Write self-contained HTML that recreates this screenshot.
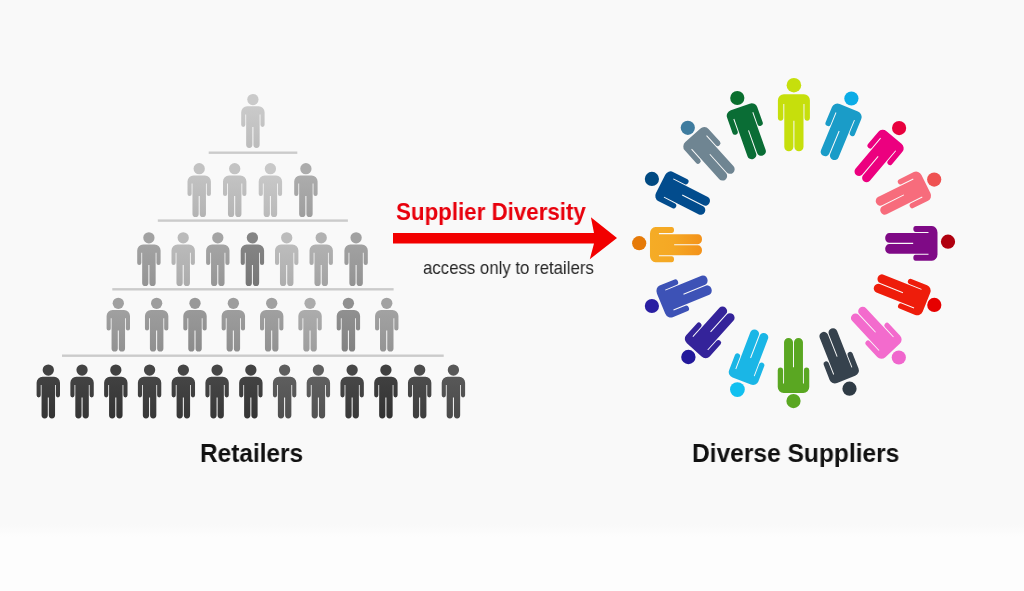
<!DOCTYPE html>
<html><head><meta charset="utf-8"><style>
html,body{margin:0;padding:0;}
body{width:1024px;height:591px;overflow:hidden;position:relative;background:#fdfdfd;font-family:"Liberation Sans",sans-serif;}
#bg{position:absolute;left:0;top:0;width:1024px;height:537px;background:linear-gradient(to bottom,#f9f9f9 0,#f9f9f9 524px,#fdfdfd 537px);}
svg{position:absolute;left:0;top:0;}
.t{position:absolute;white-space:nowrap;line-height:1;will-change:transform;}
</style></head><body>
<div id="bg"></div>
<svg width="1024" height="591" viewBox="0 0 1024 591">
<defs><linearGradient id="g0" x1="0" y1="0" x2="0" y2="1"><stop offset="0" stop-color="#cacaca"/><stop offset="1" stop-color="#bcbcbc"/></linearGradient><linearGradient id="g1" x1="0" y1="0" x2="0" y2="1"><stop offset="0" stop-color="#c2c2c2"/><stop offset="1" stop-color="#b4b4b4"/></linearGradient><linearGradient id="g2" x1="0" y1="0" x2="0" y2="1"><stop offset="0" stop-color="#c3c3c3"/><stop offset="1" stop-color="#b5b5b5"/></linearGradient><linearGradient id="g3" x1="0" y1="0" x2="0" y2="1"><stop offset="0" stop-color="#c8c8c8"/><stop offset="1" stop-color="#bababa"/></linearGradient><linearGradient id="g4" x1="0" y1="0" x2="0" y2="1"><stop offset="0" stop-color="#acacac"/><stop offset="1" stop-color="#9e9e9e"/></linearGradient><linearGradient id="g5" x1="0" y1="0" x2="0" y2="1"><stop offset="0" stop-color="#a2a2a2"/><stop offset="1" stop-color="#949494"/></linearGradient><linearGradient id="g6" x1="0" y1="0" x2="0" y2="1"><stop offset="0" stop-color="#bababa"/><stop offset="1" stop-color="#acacac"/></linearGradient><linearGradient id="g7" x1="0" y1="0" x2="0" y2="1"><stop offset="0" stop-color="#a4a4a4"/><stop offset="1" stop-color="#969696"/></linearGradient><linearGradient id="g8" x1="0" y1="0" x2="0" y2="1"><stop offset="0" stop-color="#848484"/><stop offset="1" stop-color="#767676"/></linearGradient><linearGradient id="g9" x1="0" y1="0" x2="0" y2="1"><stop offset="0" stop-color="#bcbcbc"/><stop offset="1" stop-color="#aeaeae"/></linearGradient><linearGradient id="g10" x1="0" y1="0" x2="0" y2="1"><stop offset="0" stop-color="#b1b1b1"/><stop offset="1" stop-color="#a3a3a3"/></linearGradient><linearGradient id="g11" x1="0" y1="0" x2="0" y2="1"><stop offset="0" stop-color="#a1a1a1"/><stop offset="1" stop-color="#939393"/></linearGradient><linearGradient id="g12" x1="0" y1="0" x2="0" y2="1"><stop offset="0" stop-color="#a0a0a0"/><stop offset="1" stop-color="#929292"/></linearGradient><linearGradient id="g13" x1="0" y1="0" x2="0" y2="1"><stop offset="0" stop-color="#9d9d9d"/><stop offset="1" stop-color="#8f8f8f"/></linearGradient><linearGradient id="g14" x1="0" y1="0" x2="0" y2="1"><stop offset="0" stop-color="#999999"/><stop offset="1" stop-color="#8b8b8b"/></linearGradient><linearGradient id="g15" x1="0" y1="0" x2="0" y2="1"><stop offset="0" stop-color="#9d9d9d"/><stop offset="1" stop-color="#8f8f8f"/></linearGradient><linearGradient id="g16" x1="0" y1="0" x2="0" y2="1"><stop offset="0" stop-color="#a0a0a0"/><stop offset="1" stop-color="#929292"/></linearGradient><linearGradient id="g17" x1="0" y1="0" x2="0" y2="1"><stop offset="0" stop-color="#acacac"/><stop offset="1" stop-color="#9e9e9e"/></linearGradient><linearGradient id="g18" x1="0" y1="0" x2="0" y2="1"><stop offset="0" stop-color="#909090"/><stop offset="1" stop-color="#828282"/></linearGradient><linearGradient id="g19" x1="0" y1="0" x2="0" y2="1"><stop offset="0" stop-color="#a2a2a2"/><stop offset="1" stop-color="#949494"/></linearGradient><linearGradient id="g20" x1="0" y1="0" x2="0" y2="1"><stop offset="0" stop-color="#424242"/><stop offset="1" stop-color="#343434"/></linearGradient><linearGradient id="g21" x1="0" y1="0" x2="0" y2="1"><stop offset="0" stop-color="#434343"/><stop offset="1" stop-color="#353535"/></linearGradient><linearGradient id="g22" x1="0" y1="0" x2="0" y2="1"><stop offset="0" stop-color="#414141"/><stop offset="1" stop-color="#333333"/></linearGradient><linearGradient id="g23" x1="0" y1="0" x2="0" y2="1"><stop offset="0" stop-color="#464646"/><stop offset="1" stop-color="#383838"/></linearGradient><linearGradient id="g24" x1="0" y1="0" x2="0" y2="1"><stop offset="0" stop-color="#454545"/><stop offset="1" stop-color="#373737"/></linearGradient><linearGradient id="g25" x1="0" y1="0" x2="0" y2="1"><stop offset="0" stop-color="#464646"/><stop offset="1" stop-color="#383838"/></linearGradient><linearGradient id="g26" x1="0" y1="0" x2="0" y2="1"><stop offset="0" stop-color="#434343"/><stop offset="1" stop-color="#353535"/></linearGradient><linearGradient id="g27" x1="0" y1="0" x2="0" y2="1"><stop offset="0" stop-color="#5e5e5e"/><stop offset="1" stop-color="#505050"/></linearGradient><linearGradient id="g28" x1="0" y1="0" x2="0" y2="1"><stop offset="0" stop-color="#606060"/><stop offset="1" stop-color="#525252"/></linearGradient><linearGradient id="g29" x1="0" y1="0" x2="0" y2="1"><stop offset="0" stop-color="#474747"/><stop offset="1" stop-color="#393939"/></linearGradient><linearGradient id="g30" x1="0" y1="0" x2="0" y2="1"><stop offset="0" stop-color="#404040"/><stop offset="1" stop-color="#323232"/></linearGradient><linearGradient id="g31" x1="0" y1="0" x2="0" y2="1"><stop offset="0" stop-color="#4c4c4c"/><stop offset="1" stop-color="#3e3e3e"/></linearGradient><linearGradient id="g32" x1="0" y1="0" x2="0" y2="1"><stop offset="0" stop-color="#585858"/><stop offset="1" stop-color="#4a4a4a"/></linearGradient><linearGradient id="cg12" x1="0" y1="0" x2="0" y2="1"><stop offset="0" stop-color="#f5ac26"/><stop offset="0.45" stop-color="#f5a824"/><stop offset="1" stop-color="#f3921a"/></linearGradient></defs>
<g transform="translate(793.90,85.80) rotate(0) scale(1.0,1.0)"><path d="M-16.00,14.50 A6,6 0 0 1 -10.00,8.50 L10.00,8.50 A6,6 0 0 1 16.00,14.50 L16.00,32.27 A2.73,2.73 0 0 1 10.55,32.27 L10.55,18.30 L9.60,18.30 L9.60,60.95 A4.55,4.55 0 0 1 0.50,60.95 L0.50,35.00 L-0.50,35.00 L-0.50,60.95 A4.55,4.55 0 0 1 -9.60,60.95 L-9.60,18.30 L-10.55,18.30 L-10.55,32.27 A2.73,2.73 0 0 1 -16.00,32.27 Z" fill="#c6df0c"/></g><circle cx="793.90" cy="85.20" r="7.30" fill="#c6df0c"/>
<g transform="translate(851.90,100.30) rotate(22.5) scale(0.99,0.95)"><path d="M-16.00,14.50 A6,6 0 0 1 -10.00,8.50 L10.00,8.50 A6,6 0 0 1 16.00,14.50 L16.00,32.27 A2.73,2.73 0 0 1 10.55,32.27 L10.55,18.30 L9.60,18.30 L9.60,60.95 A4.55,4.55 0 0 1 0.50,60.95 L0.50,35.00 L-0.50,35.00 L-0.50,60.95 A4.55,4.55 0 0 1 -9.60,60.95 L-9.60,18.30 L-10.55,18.30 L-10.55,32.27 A2.73,2.73 0 0 1 -16.00,32.27 Z" fill="#1a9cc8"/></g><circle cx="851.40" cy="98.50" r="7.10" fill="#0cace6"/>
<g transform="translate(899.10,131.40) rotate(40) scale(0.98,0.93)"><path d="M-16.00,14.50 A6,6 0 0 1 -10.00,8.50 L10.00,8.50 A6,6 0 0 1 16.00,14.50 L16.00,32.27 A2.73,2.73 0 0 1 10.55,32.27 L10.55,18.30 L9.60,18.30 L9.60,60.95 A4.55,4.55 0 0 1 0.50,60.95 L0.50,35.00 L-0.50,35.00 L-0.50,60.95 A4.55,4.55 0 0 1 -9.60,60.95 L-9.60,18.30 L-10.55,18.30 L-10.55,32.27 A2.73,2.73 0 0 1 -16.00,32.27 Z" fill="#ec007f"/></g><circle cx="899.10" cy="128.10" r="7.10" fill="#e8003e"/>
<g transform="translate(933.00,180.40) rotate(63.5) scale(1.0,0.93)"><path d="M-16.00,14.50 A6,6 0 0 1 -10.00,8.50 L10.00,8.50 A6,6 0 0 1 16.00,14.50 L16.00,32.27 A2.73,2.73 0 0 1 10.55,32.27 L10.55,18.30 L9.60,18.30 L9.60,60.95 A4.55,4.55 0 0 1 0.50,60.95 L0.50,35.00 L-0.50,35.00 L-0.50,60.95 A4.55,4.55 0 0 1 -9.60,60.95 L-9.60,18.30 L-10.55,18.30 L-10.55,32.27 A2.73,2.73 0 0 1 -16.00,32.27 Z" fill="#f76c7c"/></g><circle cx="934.20" cy="179.60" r="7.10" fill="#ef5252"/>
<g transform="translate(945.30,243.40) rotate(90) scale(1.08,0.918)"><path d="M-16.00,14.50 A6,6 0 0 1 -10.00,8.50 L10.00,8.50 A6,6 0 0 1 16.00,14.50 L16.00,32.27 A2.73,2.73 0 0 1 10.55,32.27 L10.55,18.30 L9.60,18.30 L9.60,60.95 A4.55,4.55 0 0 1 0.50,60.95 L0.50,35.00 L-0.50,35.00 L-0.50,60.95 A4.55,4.55 0 0 1 -9.60,60.95 L-9.60,18.30 L-10.55,18.30 L-10.55,32.27 A2.73,2.73 0 0 1 -16.00,32.27 Z" fill="#7f0a86"/></g><circle cx="948.00" cy="241.70" r="7.10" fill="#b0000f"/>
<g transform="translate(934.00,305.20) rotate(111.8) scale(1.0,0.955)"><path d="M-16.00,14.50 A6,6 0 0 1 -10.00,8.50 L10.00,8.50 A6,6 0 0 1 16.00,14.50 L16.00,32.27 A2.73,2.73 0 0 1 10.55,32.27 L10.55,18.30 L9.60,18.30 L9.60,60.95 A4.55,4.55 0 0 1 0.50,60.95 L0.50,35.00 L-0.50,35.00 L-0.50,60.95 A4.55,4.55 0 0 1 -9.60,60.95 L-9.60,18.30 L-10.55,18.30 L-10.55,32.27 A2.73,2.73 0 0 1 -16.00,32.27 Z" fill="#ee1d0b"/></g><circle cx="934.30" cy="304.90" r="7.10" fill="#e60000"/>
<g transform="translate(898.00,356.30) rotate(137) scale(0.98,0.94)"><path d="M-16.00,14.50 A6,6 0 0 1 -10.00,8.50 L10.00,8.50 A6,6 0 0 1 16.00,14.50 L16.00,32.27 A2.73,2.73 0 0 1 10.55,32.27 L10.55,18.30 L9.60,18.30 L9.60,60.95 A4.55,4.55 0 0 1 0.50,60.95 L0.50,35.00 L-0.50,35.00 L-0.50,60.95 A4.55,4.55 0 0 1 -9.60,60.95 L-9.60,18.30 L-10.55,18.30 L-10.55,32.27 A2.73,2.73 0 0 1 -16.00,32.27 Z" fill="#f36bcd"/></g><circle cx="898.80" cy="357.50" r="7.10" fill="#f066cd"/>
<g transform="translate(849.00,386.70) rotate(158.5) scale(0.97,0.925)"><path d="M-16.00,14.50 A6,6 0 0 1 -10.00,8.50 L10.00,8.50 A6,6 0 0 1 16.00,14.50 L16.00,32.27 A2.73,2.73 0 0 1 10.55,32.27 L10.55,18.30 L9.60,18.30 L9.60,60.95 A4.55,4.55 0 0 1 0.50,60.95 L0.50,35.00 L-0.50,35.00 L-0.50,60.95 A4.55,4.55 0 0 1 -9.60,60.95 L-9.60,18.30 L-10.55,18.30 L-10.55,32.27 A2.73,2.73 0 0 1 -16.00,32.27 Z" fill="#36424d"/></g><circle cx="849.50" cy="388.70" r="7.10" fill="#2f3b45"/>
<g transform="translate(793.50,401.10) rotate(180) scale(0.985,0.965)"><path d="M-16.00,14.50 A6,6 0 0 1 -10.00,8.50 L10.00,8.50 A6,6 0 0 1 16.00,14.50 L16.00,32.27 A2.73,2.73 0 0 1 10.55,32.27 L10.55,18.30 L9.60,18.30 L9.60,60.95 A4.55,4.55 0 0 1 0.50,60.95 L0.50,35.00 L-0.50,35.00 L-0.50,60.95 A4.55,4.55 0 0 1 -9.60,60.95 L-9.60,18.30 L-10.55,18.30 L-10.55,32.27 A2.73,2.73 0 0 1 -16.00,32.27 Z" fill="#5aa722"/></g><circle cx="793.50" cy="401.10" r="7.10" fill="#5aa722"/>
<g transform="translate(738.90,388.40) rotate(201) scale(0.98,0.93)"><path d="M-16.00,14.50 A6,6 0 0 1 -10.00,8.50 L10.00,8.50 A6,6 0 0 1 16.00,14.50 L16.00,32.27 A2.73,2.73 0 0 1 10.55,32.27 L10.55,18.30 L9.60,18.30 L9.60,60.95 A4.55,4.55 0 0 1 0.50,60.95 L0.50,35.00 L-0.50,35.00 L-0.50,60.95 A4.55,4.55 0 0 1 -9.60,60.95 L-9.60,18.30 L-10.55,18.30 L-10.55,32.27 A2.73,2.73 0 0 1 -16.00,32.27 Z" fill="#1ab6e6"/></g><circle cx="737.40" cy="389.60" r="7.40" fill="#12c0f0"/>
<g transform="translate(689.00,355.80) rotate(222) scale(0.99,0.92)"><path d="M-16.00,14.50 A6,6 0 0 1 -10.00,8.50 L10.00,8.50 A6,6 0 0 1 16.00,14.50 L16.00,32.27 A2.73,2.73 0 0 1 10.55,32.27 L10.55,18.30 L9.60,18.30 L9.60,60.95 A4.55,4.55 0 0 1 0.50,60.95 L0.50,35.00 L-0.50,35.00 L-0.50,60.95 A4.55,4.55 0 0 1 -9.60,60.95 L-9.60,18.30 L-10.55,18.30 L-10.55,32.27 A2.73,2.73 0 0 1 -16.00,32.27 Z" fill="#34239a"/></g><circle cx="688.40" cy="357.00" r="7.20" fill="#23199b"/>
<g transform="translate(653.90,306.50) rotate(247.5) scale(1.07,0.915)"><path d="M-16.00,14.50 A6,6 0 0 1 -10.00,8.50 L10.00,8.50 A6,6 0 0 1 16.00,14.50 L16.00,32.27 A2.73,2.73 0 0 1 10.55,32.27 L10.55,18.30 L9.60,18.30 L9.60,60.95 A4.55,4.55 0 0 1 0.50,60.95 L0.50,35.00 L-0.50,35.00 L-0.50,60.95 A4.55,4.55 0 0 1 -9.60,60.95 L-9.60,18.30 L-10.55,18.30 L-10.55,32.27 A2.73,2.73 0 0 1 -16.00,32.27 Z" fill="#3d52b6"/></g><circle cx="651.90" cy="306.00" r="7.10" fill="#2a1fa2"/>
<g transform="translate(642.20,244.70) rotate(270) scale(1.1,0.913)"><path d="M-16.00,14.50 A6,6 0 0 1 -10.00,8.50 L10.00,8.50 A6,6 0 0 1 16.00,14.50 L16.00,32.27 A2.73,2.73 0 0 1 10.55,32.27 L10.55,18.30 L9.60,18.30 L9.60,60.95 A4.55,4.55 0 0 1 0.50,60.95 L0.50,35.00 L-0.50,35.00 L-0.50,60.95 A4.55,4.55 0 0 1 -9.60,60.95 L-9.60,18.30 L-10.55,18.30 L-10.55,32.27 A2.73,2.73 0 0 1 -16.00,32.27 Z" fill="url(#cg12)"/></g><circle cx="639.20" cy="243.20" r="7.10" fill="#e67a08"/>
<g transform="translate(653.70,180.40) rotate(297) scale(1.02,0.915)"><path d="M-16.00,14.50 A6,6 0 0 1 -10.00,8.50 L10.00,8.50 A6,6 0 0 1 16.00,14.50 L16.00,32.27 A2.73,2.73 0 0 1 10.55,32.27 L10.55,18.30 L9.60,18.30 L9.60,60.95 A4.55,4.55 0 0 1 0.50,60.95 L0.50,35.00 L-0.50,35.00 L-0.50,60.95 A4.55,4.55 0 0 1 -9.60,60.95 L-9.60,18.30 L-10.55,18.30 L-10.55,32.27 A2.73,2.73 0 0 1 -16.00,32.27 Z" fill="#024c8d"/></g><circle cx="651.90" cy="178.90" r="7.10" fill="#014a82"/>
<g transform="translate(687.30,129.30) rotate(318) scale(1.0,0.96)"><path d="M-16.00,14.50 A6,6 0 0 1 -10.00,8.50 L10.00,8.50 A6,6 0 0 1 16.00,14.50 L16.00,32.27 A2.73,2.73 0 0 1 10.55,32.27 L10.55,18.30 L9.60,18.30 L9.60,60.95 A4.55,4.55 0 0 1 0.50,60.95 L0.50,35.00 L-0.50,35.00 L-0.50,60.95 A4.55,4.55 0 0 1 -9.60,60.95 L-9.60,18.30 L-10.55,18.30 L-10.55,32.27 A2.73,2.73 0 0 1 -16.00,32.27 Z" fill="#6f8592"/></g><circle cx="687.80" cy="127.80" r="7.10" fill="#3f7c9f"/>
<g transform="translate(737.60,99.50) rotate(340.5) scale(1.0,0.935)"><path d="M-16.00,14.50 A6,6 0 0 1 -10.00,8.50 L10.00,8.50 A6,6 0 0 1 16.00,14.50 L16.00,32.27 A2.73,2.73 0 0 1 10.55,32.27 L10.55,18.30 L9.60,18.30 L9.60,60.95 A4.55,4.55 0 0 1 0.50,60.95 L0.50,35.00 L-0.50,35.00 L-0.50,60.95 A4.55,4.55 0 0 1 -9.60,60.95 L-9.60,18.30 L-10.55,18.30 L-10.55,32.27 A2.73,2.73 0 0 1 -16.00,32.27 Z" fill="#0a6d35"/></g><circle cx="737.30" cy="98.00" r="7.10" fill="#0a6f2e"/>
<g transform="translate(252.90,99.30)"><path d="M-11.70,13.00 A6.0,6.0 0 0 1 -5.70,7.00 L5.70,7.00 A6.0,6.0 0 0 1 11.70,13.00 L11.70,25.53 A2.07,2.07 0 0 1 7.55,25.53 L7.55,15.20 L6.75,15.20 L6.75,45.48 A3.12,3.12 0 0 1 0.50,45.48 L0.50,27.60 L-0.50,27.60 L-0.50,45.48 A3.12,3.12 0 0 1 -6.75,45.48 L-6.75,15.20 L-7.55,15.20 L-7.55,25.53 A2.07,2.07 0 0 1 -11.70,25.53 Z" fill="url(#g0)"/></g><circle cx="252.90" cy="99.60" r="5.65" fill="#cacaca"/>
<g transform="translate(199.20,168.40)"><path d="M-11.70,13.00 A6.0,6.0 0 0 1 -5.70,7.00 L5.70,7.00 A6.0,6.0 0 0 1 11.70,13.00 L11.70,25.53 A2.07,2.07 0 0 1 7.55,25.53 L7.55,15.20 L6.75,15.20 L6.75,45.48 A3.12,3.12 0 0 1 0.50,45.48 L0.50,27.60 L-0.50,27.60 L-0.50,45.48 A3.12,3.12 0 0 1 -6.75,45.48 L-6.75,15.20 L-7.55,15.20 L-7.55,25.53 A2.07,2.07 0 0 1 -11.70,25.53 Z" fill="url(#g1)"/></g><circle cx="199.20" cy="168.70" r="5.65" fill="#c2c2c2"/>
<g transform="translate(234.70,168.40)"><path d="M-11.70,13.00 A6.0,6.0 0 0 1 -5.70,7.00 L5.70,7.00 A6.0,6.0 0 0 1 11.70,13.00 L11.70,25.53 A2.07,2.07 0 0 1 7.55,25.53 L7.55,15.20 L6.75,15.20 L6.75,45.48 A3.12,3.12 0 0 1 0.50,45.48 L0.50,27.60 L-0.50,27.60 L-0.50,45.48 A3.12,3.12 0 0 1 -6.75,45.48 L-6.75,15.20 L-7.55,15.20 L-7.55,25.53 A2.07,2.07 0 0 1 -11.70,25.53 Z" fill="url(#g2)"/></g><circle cx="234.70" cy="168.70" r="5.65" fill="#c3c3c3"/>
<g transform="translate(270.40,168.40)"><path d="M-11.70,13.00 A6.0,6.0 0 0 1 -5.70,7.00 L5.70,7.00 A6.0,6.0 0 0 1 11.70,13.00 L11.70,25.53 A2.07,2.07 0 0 1 7.55,25.53 L7.55,15.20 L6.75,15.20 L6.75,45.48 A3.12,3.12 0 0 1 0.50,45.48 L0.50,27.60 L-0.50,27.60 L-0.50,45.48 A3.12,3.12 0 0 1 -6.75,45.48 L-6.75,15.20 L-7.55,15.20 L-7.55,25.53 A2.07,2.07 0 0 1 -11.70,25.53 Z" fill="url(#g3)"/></g><circle cx="270.40" cy="168.70" r="5.65" fill="#c8c8c8"/>
<g transform="translate(305.90,168.40)"><path d="M-11.70,13.00 A6.0,6.0 0 0 1 -5.70,7.00 L5.70,7.00 A6.0,6.0 0 0 1 11.70,13.00 L11.70,25.53 A2.07,2.07 0 0 1 7.55,25.53 L7.55,15.20 L6.75,15.20 L6.75,45.48 A3.12,3.12 0 0 1 0.50,45.48 L0.50,27.60 L-0.50,27.60 L-0.50,45.48 A3.12,3.12 0 0 1 -6.75,45.48 L-6.75,15.20 L-7.55,15.20 L-7.55,25.53 A2.07,2.07 0 0 1 -11.70,25.53 Z" fill="url(#g4)"/></g><circle cx="305.90" cy="168.70" r="5.65" fill="#acacac"/>
<g transform="translate(148.90,237.50)"><path d="M-11.70,13.00 A6.0,6.0 0 0 1 -5.70,7.00 L5.70,7.00 A6.0,6.0 0 0 1 11.70,13.00 L11.70,25.53 A2.07,2.07 0 0 1 7.55,25.53 L7.55,15.20 L6.75,15.20 L6.75,45.48 A3.12,3.12 0 0 1 0.50,45.48 L0.50,27.60 L-0.50,27.60 L-0.50,45.48 A3.12,3.12 0 0 1 -6.75,45.48 L-6.75,15.20 L-7.55,15.20 L-7.55,25.53 A2.07,2.07 0 0 1 -11.70,25.53 Z" fill="url(#g5)"/></g><circle cx="148.90" cy="237.80" r="5.65" fill="#a2a2a2"/>
<g transform="translate(183.20,237.50)"><path d="M-11.70,13.00 A6.0,6.0 0 0 1 -5.70,7.00 L5.70,7.00 A6.0,6.0 0 0 1 11.70,13.00 L11.70,25.53 A2.07,2.07 0 0 1 7.55,25.53 L7.55,15.20 L6.75,15.20 L6.75,45.48 A3.12,3.12 0 0 1 0.50,45.48 L0.50,27.60 L-0.50,27.60 L-0.50,45.48 A3.12,3.12 0 0 1 -6.75,45.48 L-6.75,15.20 L-7.55,15.20 L-7.55,25.53 A2.07,2.07 0 0 1 -11.70,25.53 Z" fill="url(#g6)"/></g><circle cx="183.20" cy="237.80" r="5.65" fill="#bababa"/>
<g transform="translate(217.80,237.50)"><path d="M-11.70,13.00 A6.0,6.0 0 0 1 -5.70,7.00 L5.70,7.00 A6.0,6.0 0 0 1 11.70,13.00 L11.70,25.53 A2.07,2.07 0 0 1 7.55,25.53 L7.55,15.20 L6.75,15.20 L6.75,45.48 A3.12,3.12 0 0 1 0.50,45.48 L0.50,27.60 L-0.50,27.60 L-0.50,45.48 A3.12,3.12 0 0 1 -6.75,45.48 L-6.75,15.20 L-7.55,15.20 L-7.55,25.53 A2.07,2.07 0 0 1 -11.70,25.53 Z" fill="url(#g7)"/></g><circle cx="217.80" cy="237.80" r="5.65" fill="#a4a4a4"/>
<g transform="translate(252.40,237.50)"><path d="M-11.70,13.00 A6.0,6.0 0 0 1 -5.70,7.00 L5.70,7.00 A6.0,6.0 0 0 1 11.70,13.00 L11.70,25.53 A2.07,2.07 0 0 1 7.55,25.53 L7.55,15.20 L6.75,15.20 L6.75,45.48 A3.12,3.12 0 0 1 0.50,45.48 L0.50,27.60 L-0.50,27.60 L-0.50,45.48 A3.12,3.12 0 0 1 -6.75,45.48 L-6.75,15.20 L-7.55,15.20 L-7.55,25.53 A2.07,2.07 0 0 1 -11.70,25.53 Z" fill="url(#g8)"/></g><circle cx="252.40" cy="237.80" r="5.65" fill="#848484"/>
<g transform="translate(286.70,237.50)"><path d="M-11.70,13.00 A6.0,6.0 0 0 1 -5.70,7.00 L5.70,7.00 A6.0,6.0 0 0 1 11.70,13.00 L11.70,25.53 A2.07,2.07 0 0 1 7.55,25.53 L7.55,15.20 L6.75,15.20 L6.75,45.48 A3.12,3.12 0 0 1 0.50,45.48 L0.50,27.60 L-0.50,27.60 L-0.50,45.48 A3.12,3.12 0 0 1 -6.75,45.48 L-6.75,15.20 L-7.55,15.20 L-7.55,25.53 A2.07,2.07 0 0 1 -11.70,25.53 Z" fill="url(#g9)"/></g><circle cx="286.70" cy="237.80" r="5.65" fill="#bcbcbc"/>
<g transform="translate(321.20,237.50)"><path d="M-11.70,13.00 A6.0,6.0 0 0 1 -5.70,7.00 L5.70,7.00 A6.0,6.0 0 0 1 11.70,13.00 L11.70,25.53 A2.07,2.07 0 0 1 7.55,25.53 L7.55,15.20 L6.75,15.20 L6.75,45.48 A3.12,3.12 0 0 1 0.50,45.48 L0.50,27.60 L-0.50,27.60 L-0.50,45.48 A3.12,3.12 0 0 1 -6.75,45.48 L-6.75,15.20 L-7.55,15.20 L-7.55,25.53 A2.07,2.07 0 0 1 -11.70,25.53 Z" fill="url(#g10)"/></g><circle cx="321.20" cy="237.80" r="5.65" fill="#b1b1b1"/>
<g transform="translate(356.10,237.50)"><path d="M-11.70,13.00 A6.0,6.0 0 0 1 -5.70,7.00 L5.70,7.00 A6.0,6.0 0 0 1 11.70,13.00 L11.70,25.53 A2.07,2.07 0 0 1 7.55,25.53 L7.55,15.20 L6.75,15.20 L6.75,45.48 A3.12,3.12 0 0 1 0.50,45.48 L0.50,27.60 L-0.50,27.60 L-0.50,45.48 A3.12,3.12 0 0 1 -6.75,45.48 L-6.75,15.20 L-7.55,15.20 L-7.55,25.53 A2.07,2.07 0 0 1 -11.70,25.53 Z" fill="url(#g11)"/></g><circle cx="356.10" cy="237.80" r="5.65" fill="#a1a1a1"/>
<g transform="translate(118.30,303.00)"><path d="M-11.70,13.00 A6.0,6.0 0 0 1 -5.70,7.00 L5.70,7.00 A6.0,6.0 0 0 1 11.70,13.00 L11.70,25.53 A2.07,2.07 0 0 1 7.55,25.53 L7.55,15.20 L6.75,15.20 L6.75,45.48 A3.12,3.12 0 0 1 0.50,45.48 L0.50,27.60 L-0.50,27.60 L-0.50,45.48 A3.12,3.12 0 0 1 -6.75,45.48 L-6.75,15.20 L-7.55,15.20 L-7.55,25.53 A2.07,2.07 0 0 1 -11.70,25.53 Z" fill="url(#g12)"/></g><circle cx="118.30" cy="303.30" r="5.65" fill="#a0a0a0"/>
<g transform="translate(156.65,303.00)"><path d="M-11.70,13.00 A6.0,6.0 0 0 1 -5.70,7.00 L5.70,7.00 A6.0,6.0 0 0 1 11.70,13.00 L11.70,25.53 A2.07,2.07 0 0 1 7.55,25.53 L7.55,15.20 L6.75,15.20 L6.75,45.48 A3.12,3.12 0 0 1 0.50,45.48 L0.50,27.60 L-0.50,27.60 L-0.50,45.48 A3.12,3.12 0 0 1 -6.75,45.48 L-6.75,15.20 L-7.55,15.20 L-7.55,25.53 A2.07,2.07 0 0 1 -11.70,25.53 Z" fill="url(#g13)"/></g><circle cx="156.65" cy="303.30" r="5.65" fill="#9d9d9d"/>
<g transform="translate(195.00,303.00)"><path d="M-11.70,13.00 A6.0,6.0 0 0 1 -5.70,7.00 L5.70,7.00 A6.0,6.0 0 0 1 11.70,13.00 L11.70,25.53 A2.07,2.07 0 0 1 7.55,25.53 L7.55,15.20 L6.75,15.20 L6.75,45.48 A3.12,3.12 0 0 1 0.50,45.48 L0.50,27.60 L-0.50,27.60 L-0.50,45.48 A3.12,3.12 0 0 1 -6.75,45.48 L-6.75,15.20 L-7.55,15.20 L-7.55,25.53 A2.07,2.07 0 0 1 -11.70,25.53 Z" fill="url(#g14)"/></g><circle cx="195.00" cy="303.30" r="5.65" fill="#999999"/>
<g transform="translate(233.35,303.00)"><path d="M-11.70,13.00 A6.0,6.0 0 0 1 -5.70,7.00 L5.70,7.00 A6.0,6.0 0 0 1 11.70,13.00 L11.70,25.53 A2.07,2.07 0 0 1 7.55,25.53 L7.55,15.20 L6.75,15.20 L6.75,45.48 A3.12,3.12 0 0 1 0.50,45.48 L0.50,27.60 L-0.50,27.60 L-0.50,45.48 A3.12,3.12 0 0 1 -6.75,45.48 L-6.75,15.20 L-7.55,15.20 L-7.55,25.53 A2.07,2.07 0 0 1 -11.70,25.53 Z" fill="url(#g15)"/></g><circle cx="233.35" cy="303.30" r="5.65" fill="#9d9d9d"/>
<g transform="translate(271.70,303.00)"><path d="M-11.70,13.00 A6.0,6.0 0 0 1 -5.70,7.00 L5.70,7.00 A6.0,6.0 0 0 1 11.70,13.00 L11.70,25.53 A2.07,2.07 0 0 1 7.55,25.53 L7.55,15.20 L6.75,15.20 L6.75,45.48 A3.12,3.12 0 0 1 0.50,45.48 L0.50,27.60 L-0.50,27.60 L-0.50,45.48 A3.12,3.12 0 0 1 -6.75,45.48 L-6.75,15.20 L-7.55,15.20 L-7.55,25.53 A2.07,2.07 0 0 1 -11.70,25.53 Z" fill="url(#g16)"/></g><circle cx="271.70" cy="303.30" r="5.65" fill="#a0a0a0"/>
<g transform="translate(310.05,303.00)"><path d="M-11.70,13.00 A6.0,6.0 0 0 1 -5.70,7.00 L5.70,7.00 A6.0,6.0 0 0 1 11.70,13.00 L11.70,25.53 A2.07,2.07 0 0 1 7.55,25.53 L7.55,15.20 L6.75,15.20 L6.75,45.48 A3.12,3.12 0 0 1 0.50,45.48 L0.50,27.60 L-0.50,27.60 L-0.50,45.48 A3.12,3.12 0 0 1 -6.75,45.48 L-6.75,15.20 L-7.55,15.20 L-7.55,25.53 A2.07,2.07 0 0 1 -11.70,25.53 Z" fill="url(#g17)"/></g><circle cx="310.05" cy="303.30" r="5.65" fill="#acacac"/>
<g transform="translate(348.40,303.00)"><path d="M-11.70,13.00 A6.0,6.0 0 0 1 -5.70,7.00 L5.70,7.00 A6.0,6.0 0 0 1 11.70,13.00 L11.70,25.53 A2.07,2.07 0 0 1 7.55,25.53 L7.55,15.20 L6.75,15.20 L6.75,45.48 A3.12,3.12 0 0 1 0.50,45.48 L0.50,27.60 L-0.50,27.60 L-0.50,45.48 A3.12,3.12 0 0 1 -6.75,45.48 L-6.75,15.20 L-7.55,15.20 L-7.55,25.53 A2.07,2.07 0 0 1 -11.70,25.53 Z" fill="url(#g18)"/></g><circle cx="348.40" cy="303.30" r="5.65" fill="#909090"/>
<g transform="translate(386.75,303.00)"><path d="M-11.70,13.00 A6.0,6.0 0 0 1 -5.70,7.00 L5.70,7.00 A6.0,6.0 0 0 1 11.70,13.00 L11.70,25.53 A2.07,2.07 0 0 1 7.55,25.53 L7.55,15.20 L6.75,15.20 L6.75,45.48 A3.12,3.12 0 0 1 0.50,45.48 L0.50,27.60 L-0.50,27.60 L-0.50,45.48 A3.12,3.12 0 0 1 -6.75,45.48 L-6.75,15.20 L-7.55,15.20 L-7.55,25.53 A2.07,2.07 0 0 1 -11.70,25.53 Z" fill="url(#g19)"/></g><circle cx="386.75" cy="303.30" r="5.65" fill="#a2a2a2"/>
<g transform="translate(48.30,369.80)"><path d="M-11.70,13.00 A6.0,6.0 0 0 1 -5.70,7.00 L5.70,7.00 A6.0,6.0 0 0 1 11.70,13.00 L11.70,25.53 A2.07,2.07 0 0 1 7.55,25.53 L7.55,15.20 L6.75,15.20 L6.75,45.48 A3.12,3.12 0 0 1 0.50,45.48 L0.50,27.60 L-0.50,27.60 L-0.50,45.48 A3.12,3.12 0 0 1 -6.75,45.48 L-6.75,15.20 L-7.55,15.20 L-7.55,25.53 A2.07,2.07 0 0 1 -11.70,25.53 Z" fill="url(#g20)"/></g><circle cx="48.30" cy="370.10" r="5.65" fill="#424242"/>
<g transform="translate(82.06,369.80)"><path d="M-11.70,13.00 A6.0,6.0 0 0 1 -5.70,7.00 L5.70,7.00 A6.0,6.0 0 0 1 11.70,13.00 L11.70,25.53 A2.07,2.07 0 0 1 7.55,25.53 L7.55,15.20 L6.75,15.20 L6.75,45.48 A3.12,3.12 0 0 1 0.50,45.48 L0.50,27.60 L-0.50,27.60 L-0.50,45.48 A3.12,3.12 0 0 1 -6.75,45.48 L-6.75,15.20 L-7.55,15.20 L-7.55,25.53 A2.07,2.07 0 0 1 -11.70,25.53 Z" fill="url(#g21)"/></g><circle cx="82.06" cy="370.10" r="5.65" fill="#434343"/>
<g transform="translate(115.82,369.80)"><path d="M-11.70,13.00 A6.0,6.0 0 0 1 -5.70,7.00 L5.70,7.00 A6.0,6.0 0 0 1 11.70,13.00 L11.70,25.53 A2.07,2.07 0 0 1 7.55,25.53 L7.55,15.20 L6.75,15.20 L6.75,45.48 A3.12,3.12 0 0 1 0.50,45.48 L0.50,27.60 L-0.50,27.60 L-0.50,45.48 A3.12,3.12 0 0 1 -6.75,45.48 L-6.75,15.20 L-7.55,15.20 L-7.55,25.53 A2.07,2.07 0 0 1 -11.70,25.53 Z" fill="url(#g22)"/></g><circle cx="115.82" cy="370.10" r="5.65" fill="#414141"/>
<g transform="translate(149.58,369.80)"><path d="M-11.70,13.00 A6.0,6.0 0 0 1 -5.70,7.00 L5.70,7.00 A6.0,6.0 0 0 1 11.70,13.00 L11.70,25.53 A2.07,2.07 0 0 1 7.55,25.53 L7.55,15.20 L6.75,15.20 L6.75,45.48 A3.12,3.12 0 0 1 0.50,45.48 L0.50,27.60 L-0.50,27.60 L-0.50,45.48 A3.12,3.12 0 0 1 -6.75,45.48 L-6.75,15.20 L-7.55,15.20 L-7.55,25.53 A2.07,2.07 0 0 1 -11.70,25.53 Z" fill="url(#g23)"/></g><circle cx="149.58" cy="370.10" r="5.65" fill="#464646"/>
<g transform="translate(183.34,369.80)"><path d="M-11.70,13.00 A6.0,6.0 0 0 1 -5.70,7.00 L5.70,7.00 A6.0,6.0 0 0 1 11.70,13.00 L11.70,25.53 A2.07,2.07 0 0 1 7.55,25.53 L7.55,15.20 L6.75,15.20 L6.75,45.48 A3.12,3.12 0 0 1 0.50,45.48 L0.50,27.60 L-0.50,27.60 L-0.50,45.48 A3.12,3.12 0 0 1 -6.75,45.48 L-6.75,15.20 L-7.55,15.20 L-7.55,25.53 A2.07,2.07 0 0 1 -11.70,25.53 Z" fill="url(#g24)"/></g><circle cx="183.34" cy="370.10" r="5.65" fill="#454545"/>
<g transform="translate(217.10,369.80)"><path d="M-11.70,13.00 A6.0,6.0 0 0 1 -5.70,7.00 L5.70,7.00 A6.0,6.0 0 0 1 11.70,13.00 L11.70,25.53 A2.07,2.07 0 0 1 7.55,25.53 L7.55,15.20 L6.75,15.20 L6.75,45.48 A3.12,3.12 0 0 1 0.50,45.48 L0.50,27.60 L-0.50,27.60 L-0.50,45.48 A3.12,3.12 0 0 1 -6.75,45.48 L-6.75,15.20 L-7.55,15.20 L-7.55,25.53 A2.07,2.07 0 0 1 -11.70,25.53 Z" fill="url(#g25)"/></g><circle cx="217.10" cy="370.10" r="5.65" fill="#464646"/>
<g transform="translate(250.86,369.80)"><path d="M-11.70,13.00 A6.0,6.0 0 0 1 -5.70,7.00 L5.70,7.00 A6.0,6.0 0 0 1 11.70,13.00 L11.70,25.53 A2.07,2.07 0 0 1 7.55,25.53 L7.55,15.20 L6.75,15.20 L6.75,45.48 A3.12,3.12 0 0 1 0.50,45.48 L0.50,27.60 L-0.50,27.60 L-0.50,45.48 A3.12,3.12 0 0 1 -6.75,45.48 L-6.75,15.20 L-7.55,15.20 L-7.55,25.53 A2.07,2.07 0 0 1 -11.70,25.53 Z" fill="url(#g26)"/></g><circle cx="250.86" cy="370.10" r="5.65" fill="#434343"/>
<g transform="translate(284.62,369.80)"><path d="M-11.70,13.00 A6.0,6.0 0 0 1 -5.70,7.00 L5.70,7.00 A6.0,6.0 0 0 1 11.70,13.00 L11.70,25.53 A2.07,2.07 0 0 1 7.55,25.53 L7.55,15.20 L6.75,15.20 L6.75,45.48 A3.12,3.12 0 0 1 0.50,45.48 L0.50,27.60 L-0.50,27.60 L-0.50,45.48 A3.12,3.12 0 0 1 -6.75,45.48 L-6.75,15.20 L-7.55,15.20 L-7.55,25.53 A2.07,2.07 0 0 1 -11.70,25.53 Z" fill="url(#g27)"/></g><circle cx="284.62" cy="370.10" r="5.65" fill="#5e5e5e"/>
<g transform="translate(318.38,369.80)"><path d="M-11.70,13.00 A6.0,6.0 0 0 1 -5.70,7.00 L5.70,7.00 A6.0,6.0 0 0 1 11.70,13.00 L11.70,25.53 A2.07,2.07 0 0 1 7.55,25.53 L7.55,15.20 L6.75,15.20 L6.75,45.48 A3.12,3.12 0 0 1 0.50,45.48 L0.50,27.60 L-0.50,27.60 L-0.50,45.48 A3.12,3.12 0 0 1 -6.75,45.48 L-6.75,15.20 L-7.55,15.20 L-7.55,25.53 A2.07,2.07 0 0 1 -11.70,25.53 Z" fill="url(#g28)"/></g><circle cx="318.38" cy="370.10" r="5.65" fill="#606060"/>
<g transform="translate(352.14,369.80)"><path d="M-11.70,13.00 A6.0,6.0 0 0 1 -5.70,7.00 L5.70,7.00 A6.0,6.0 0 0 1 11.70,13.00 L11.70,25.53 A2.07,2.07 0 0 1 7.55,25.53 L7.55,15.20 L6.75,15.20 L6.75,45.48 A3.12,3.12 0 0 1 0.50,45.48 L0.50,27.60 L-0.50,27.60 L-0.50,45.48 A3.12,3.12 0 0 1 -6.75,45.48 L-6.75,15.20 L-7.55,15.20 L-7.55,25.53 A2.07,2.07 0 0 1 -11.70,25.53 Z" fill="url(#g29)"/></g><circle cx="352.14" cy="370.10" r="5.65" fill="#474747"/>
<g transform="translate(385.90,369.80)"><path d="M-11.70,13.00 A6.0,6.0 0 0 1 -5.70,7.00 L5.70,7.00 A6.0,6.0 0 0 1 11.70,13.00 L11.70,25.53 A2.07,2.07 0 0 1 7.55,25.53 L7.55,15.20 L6.75,15.20 L6.75,45.48 A3.12,3.12 0 0 1 0.50,45.48 L0.50,27.60 L-0.50,27.60 L-0.50,45.48 A3.12,3.12 0 0 1 -6.75,45.48 L-6.75,15.20 L-7.55,15.20 L-7.55,25.53 A2.07,2.07 0 0 1 -11.70,25.53 Z" fill="url(#g30)"/></g><circle cx="385.90" cy="370.10" r="5.65" fill="#404040"/>
<g transform="translate(419.66,369.80)"><path d="M-11.70,13.00 A6.0,6.0 0 0 1 -5.70,7.00 L5.70,7.00 A6.0,6.0 0 0 1 11.70,13.00 L11.70,25.53 A2.07,2.07 0 0 1 7.55,25.53 L7.55,15.20 L6.75,15.20 L6.75,45.48 A3.12,3.12 0 0 1 0.50,45.48 L0.50,27.60 L-0.50,27.60 L-0.50,45.48 A3.12,3.12 0 0 1 -6.75,45.48 L-6.75,15.20 L-7.55,15.20 L-7.55,25.53 A2.07,2.07 0 0 1 -11.70,25.53 Z" fill="url(#g31)"/></g><circle cx="419.66" cy="370.10" r="5.65" fill="#4c4c4c"/>
<g transform="translate(453.42,369.80)"><path d="M-11.70,13.00 A6.0,6.0 0 0 1 -5.70,7.00 L5.70,7.00 A6.0,6.0 0 0 1 11.70,13.00 L11.70,25.53 A2.07,2.07 0 0 1 7.55,25.53 L7.55,15.20 L6.75,15.20 L6.75,45.48 A3.12,3.12 0 0 1 0.50,45.48 L0.50,27.60 L-0.50,27.60 L-0.50,45.48 A3.12,3.12 0 0 1 -6.75,45.48 L-6.75,15.20 L-7.55,15.20 L-7.55,25.53 A2.07,2.07 0 0 1 -11.70,25.53 Z" fill="url(#g32)"/></g><circle cx="453.42" cy="370.10" r="5.65" fill="#585858"/>
<rect x="208.7" y="151.50" width="88.60" height="2.4" fill="#cbcbcb"/>
<rect x="157.8" y="219.40" width="190.10" height="2.4" fill="#cbcbcb"/>
<rect x="112.3" y="288.10" width="281.30" height="2.4" fill="#cbcbcb"/>
<rect x="62.0" y="354.50" width="381.70" height="2.4" fill="#cbcbcb"/>
<path d="M393,232.9 L594,232.9 L590.9,217.3 L617,238.1 L589.8,259.2 L594,243.4 L393,243.4 Z" fill="#f20000"/>
</svg>
<div class="t" id="ret" style="left:199.8px;top:439.8px;font-size:26.4px;transform:scaleX(0.925);transform-origin:0 0;font-weight:bold;color:#111;">Retailers</div>
<div class="t" id="div" style="left:691.7px;top:439.7px;font-size:26.4px;transform:scaleX(0.93);transform-origin:0 0;font-weight:bold;color:#111;">Diverse Suppliers</div>
<div class="t" id="sd" style="left:395.5px;top:199.9px;font-size:24px;transform:scaleX(0.93);transform-origin:0 0;font-weight:bold;color:#e8000c;">Supplier Diversity</div>
<div class="t" id="ac" style="left:422.5px;top:259.1px;font-size:18.1px;transform:scaleX(0.928);transform-origin:0 0;color:#262626;">access only to retailers</div>
</body></html>
